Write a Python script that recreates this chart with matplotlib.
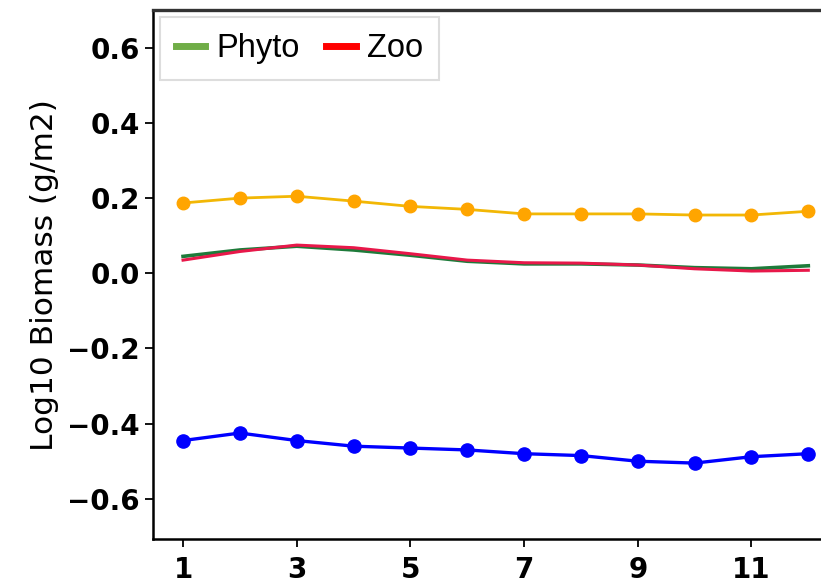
import numpy as np
import matplotlib.pyplot as plt
from matplotlib.lines import Line2D

# months 1..12
months = np.arange(1, 13)

phyto = [0.045, 0.062, 0.072, 0.062, 0.048, 0.032, 0.025, 0.025, 0.022, 0.015, 0.012, 0.020]
zoo = [0.035, 0.058, 0.075, 0.068, 0.052, 0.035, 0.028, 0.027, 0.022, 0.012, 0.006, 0.008]
orange_series = [0.187, 0.200, 0.205, 0.192, 0.178, 0.170, 0.158, 0.158, 0.158, 0.155, 0.155, 0.165]
blue_series = [-0.445, -0.425, -0.445, -0.460, -0.465, -0.470, -0.480, -0.485, -0.500, -0.505, -0.488, -0.480]

xticks = [1, 3, 5, 7, 9, 11]
yticks = [-0.6, -0.4, -0.2, 0.0, 0.2, 0.4, 0.6]

fig = plt.figure(figsize=(8.21, 5.85), dpi=100)
ax = fig.add_axes([0.1864, 0.0786, 0.83, 0.904])

# Series
ax.plot(months, orange_series, color='#f2b705', lw=2, marker='o', ms=9,
        mfc='orange', mec='orange', zorder=3)
ax.plot(months, phyto, color='#1e7b3a', lw=2.6, zorder=3)
ax.plot(months, zoo, color='#e8184a', lw=2.2, zorder=4)
ax.plot(months, blue_series, color='blue', lw=2.4, marker='o', ms=9.5, zorder=3)

ax.set_xlim(0.472, 12.46)
ax.set_ylim(-0.707, 0.70)
ax.set_xticks(xticks)
ax.set_yticks(yticks)
ax.tick_params(labelsize=20, width=1.3, length=6)
ax.tick_params(axis='x', pad=6)
for lab in ax.get_xticklabels() + ax.get_yticklabels():
    lab.set_fontweight('bold')

for s in ax.spines.values():
    s.set_linewidth(1.8)
ax.spines['top'].set_color('#333333')
ax.spines['top'].set_linewidth(2.4)
ax.spines['right'].set_visible(False)

ax.set_ylabel('Log10 Biomass (g/m2)', fontsize=22.5, labelpad=6)

# Legend
handles = [Line2D([], [], color='#70ad47', lw=5),
           Line2D([], [], color='red', lw=5)]
leg = ax.legend(handles, ['Phyto', 'Zoo'], loc='upper left', ncol=2,
                prop={'family': 'Liberation Sans', 'size': 23.5},
                handlelength=0.9, handletextpad=0.35, columnspacing=0.8,
                fancybox=False, edgecolor='#dddddd', framealpha=1,
                borderaxespad=0.2, borderpad=0.5)
leg.get_frame().set_linewidth(1.5)

fig.savefig('out.png', dpi=100)
